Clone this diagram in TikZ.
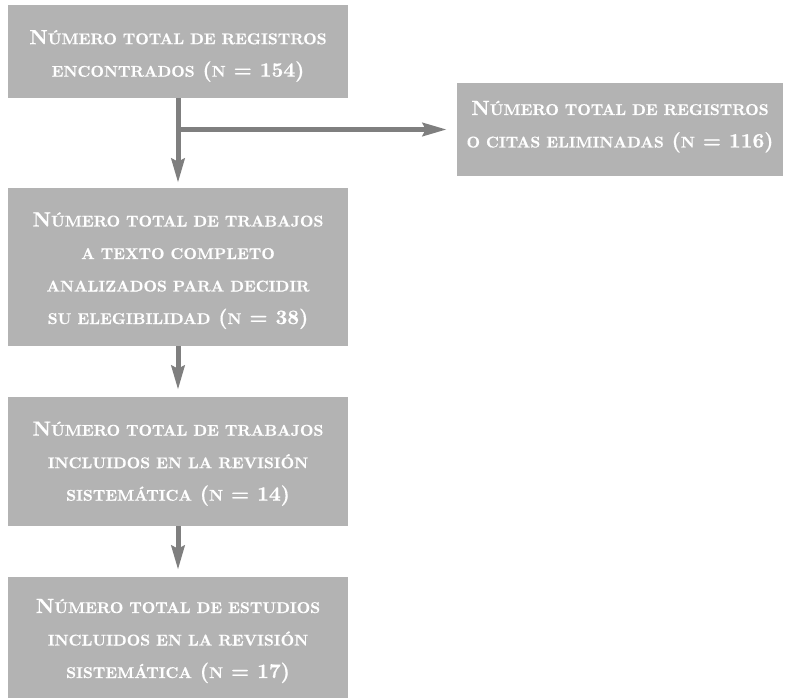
\documentclass[tikz,border=0pt]{standalone}
\usepackage{fontspec}
\usetikzlibrary{arrows.meta}
\newfontfamily\boxfont{lmroman10-bold}[Extension=.otf, FakeBold=0.6]
\definecolor{boxgray}{HTML}{B3B3B3}
\definecolor{arrgray}{HTML}{7F7F7F}
\newcommand\smc[1]{{\fontsize{15.6}{32.5}\selectfont #1}}
\tikzset{
  flowbox/.style={rectangle, fill=boxgray, draw=none, minimum width=340pt,
    inner sep=0pt},
  boxtext/.style={text=white, align=center, inner sep=0pt, anchor=base,
    font=\boxfont\fontsize{20.5}{32.5}\selectfont},
  flowarrow/.style={draw=arrgray, line width=5pt,
    -{Stealth[length=24pt,width=13pt,inset=3pt]}, shorten >=6pt}
}
\begin{document}
\begin{tikzpicture}[x=1pt,y=-1pt]
\useasboundingbox (0,0) rectangle (790,698);
\node[flowbox, minimum height=93pt] (b1) at (178,51.5) {};
\node[flowbox, minimum width=326pt, minimum height=93pt] (b2) at (620,129.5) {};
\node[flowbox, minimum height=158pt] (b3) at (178,267) {};
\node[flowbox, minimum height=129pt] (b4) at (178,461.5) {};
\node[flowbox, minimum height=126pt] (b5) at (178,640) {};
\node[boxtext] (t1) at (178,76.7)
  {N\smc{ÚMERO TOTAL DE REGISTROS}\\ \smc{ENCONTRADOS} (\smc{N} = 154)};
\node[boxtext] (t2) at (620,147.5)
  {N\smc{ÚMERO TOTAL DE REGISTROS}\\ \smc{O CITAS ELIMINADAS} (\smc{N} = 116)};
\node[boxtext] (t3) at (178,324)
  {N\smc{ÚMERO TOTAL DE TRABAJOS}\\ \smc{A TEXTO COMPLETO}\\ \smc{ANALIZADOS PARA DECIDIR}\\ \smc{SU ELEGIBILIDAD} (\smc{N} = 38)};
\node[boxtext] (t4) at (178,500.7)
  {N\smc{ÚMERO TOTAL DE TRABAJOS}\\ \smc{INCLUIDOS EN LA REVISIÓN}\\ \smc{SISTEMÁTICA} (\smc{N} = 14)};
\node[boxtext] (t5) at (178,678)
  {N\smc{ÚMERO TOTAL DE ESTUDIOS}\\ \smc{INCLUIDOS EN LA REVISIÓN}\\ \smc{SISTEMÁTICA} (\smc{N} = 17)};
\coordinate (br) at (178,129.5);
\draw[flowarrow, shorten >=5pt] (b1.south) -- (b3.north);
\draw[flowarrow, shorten >=10pt] (br) -- (b2.west);
\draw[flowarrow, shorten >=7pt] (b3.south) -- (b4.north);
\draw[flowarrow, shorten >=7pt] (b4.south) -- (b5.north);
\end{tikzpicture}
\end{document}
